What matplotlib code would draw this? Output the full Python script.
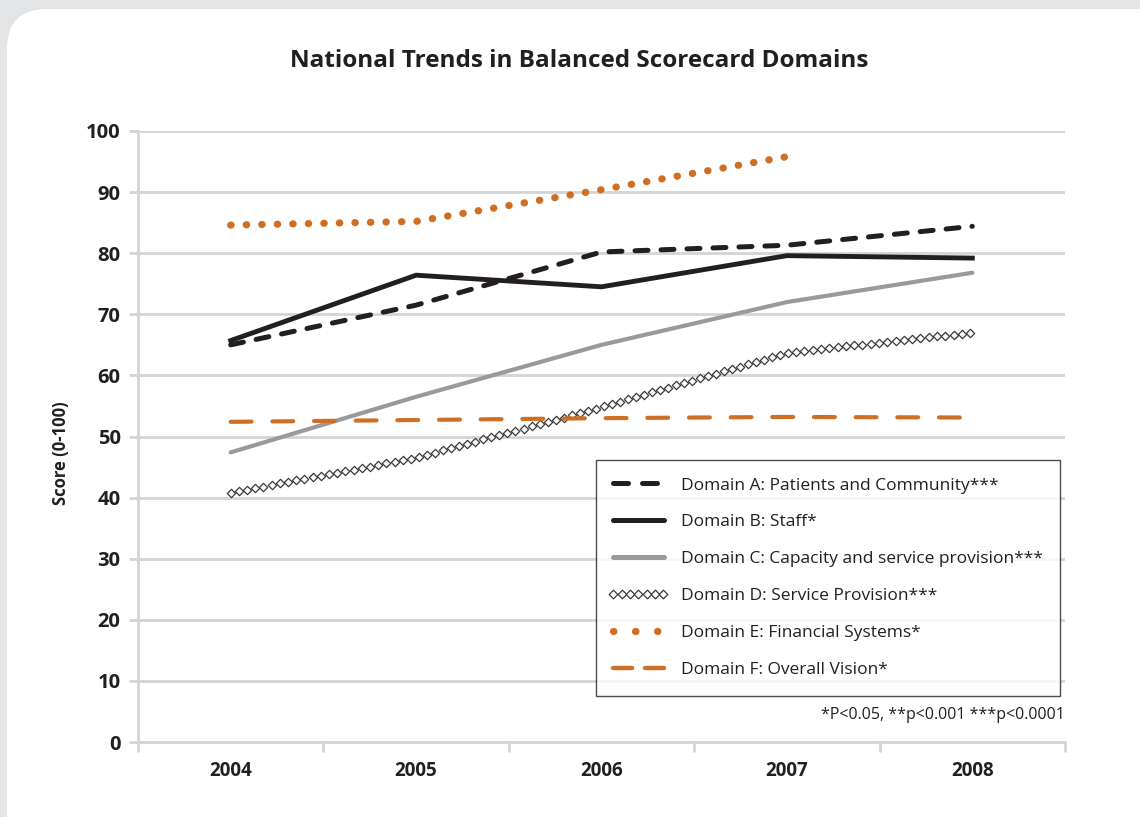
import numpy as np
import matplotlib
matplotlib.use("Agg")
import matplotlib.pyplot as plt
from matplotlib.patches import FancyBboxPatch
from matplotlib.patheffects import AbstractPathEffect
from matplotlib.path import Path
from matplotlib.transforms import Affine2D, IdentityTransform
from matplotlib.lines import Line2D

plt.rcParams['font.family'] = ['Open Sans', 'DejaVu Sans']

years = ['2004', '2005', '2006', '2007', '2008']
domain_a = [65.0, 71.5, 80.2, 81.3, 84.4]
domain_b = [65.7, 76.4, 74.5, 79.6, 79.2]
domain_c = [47.4, 56.5, 65.0, 72.0, 76.8]
domain_d = [40.8, 46.5, 54.8, 63.7, 67.0]
domain_e = [84.6, 85.2, 90.4, 95.8]
domain_f = [52.4, 52.7, 53.0, 53.2, 53.1]
labels = ['Domain A: Patients and Community***',
          'Domain B: Staff*',
          'Domain C: Capacity and service provision***',
          'Domain D: Service Provision***',
          'Domain E: Financial Systems*',
          'Domain F: Overall Vision*']

ORANGE = '#cf6f24'
DARK = '#231f20'
GREY = '#9a9a9c'


class DiamondChain(AbstractPathEffect):
    # draws small open diamonds at equal steps along the line
    def __init__(self, spacing=6.0, size=6.0):
        super().__init__()
        self.spacing = spacing
        self.size = size

    def draw_path(self, renderer, gc, tpath, affine, rgbFace=None):
        verts = affine.transform(tpath.vertices)
        seg = np.diff(verts, axis=0)
        cum = np.concatenate([[0], np.cumsum(np.hypot(seg[:, 0], seg[:, 1]))])
        step = renderer.points_to_pixels(self.spacing)
        d = np.arange(0, cum[-1] + 1e-6, step)
        pts = np.column_stack([np.interp(d, cum, verts[:, 0]), np.interp(d, cum, verts[:, 1])])
        size = renderer.points_to_pixels(self.size) / 2
        g = renderer.new_gc()
        g.copy_properties(gc)
        g.set_linewidth(0.9)
        g.set_dashes(0, None)
        renderer.draw_markers(g, Path.unit_regular_polygon(4), Affine2D().scale(size),
                              Path(pts), IdentityTransform(), (1, 1, 1, 1))
        g.restore()


fig = plt.figure(figsize=(11.4, 8.17), dpi=100)
fig.patch.set_facecolor('#e3e4e6')
card = FancyBboxPatch((7 / 1140, -0.1), 1.2, 1 - 9 / 817 + 0.1,
                      boxstyle='round,pad=0,rounding_size=0.035',
                      transform=fig.transFigure, facecolor='white', edgecolor='none',
                      mutation_aspect=1140 / 817, zorder=-5)
fig.patches.append(card)

ax = fig.add_axes([138 / 1140, 1 - 742 / 817, (1065 - 138) / 1140, (742 - 131) / 817])
ax.set_facecolor('none')
x = np.arange(len(years))

ax.plot(x, domain_a, color=DARK, lw=3.6, dashes=(2.6, 2.6), dash_capstyle='round',
        label=labels[0], zorder=4)
ax.plot(x, domain_b, color=DARK, lw=3.5, label=labels[1], zorder=4, solid_joinstyle='miter')
ax.plot(x, domain_c, color=GREY, lw=3.0, label=labels[2], zorder=3, solid_capstyle='round')
ax.plot(x, domain_d, color='#3a3a3a', lw=0.1, label=labels[3], zorder=3,
        path_effects=[DiamondChain()])
ax.plot(x[:len(domain_e)], domain_e, color=ORANGE, lw=5.2, dashes=(0.05, 2.1),
        dash_capstyle='round', label=labels[4], zorder=3)
ax.plot(x, domain_f, color=ORANGE, lw=3.0, dashes=(5.0, 5.0), dash_capstyle='round',
        label=labels[5], zorder=3)

ax.set_xlim(-0.5, 4.5)
ax.set_ylim(0, 100)
ax.set_yticks(np.arange(0, 101, 10))
ax.set_xticks(x)
ax.set_xticklabels(years)
ax.set_xticks(np.arange(-0.5, 4.6, 1), minor=True)
ax.tick_params(axis='x', which='major', length=0, pad=14, labelsize=13.5)
ax.tick_params(axis='x', which='minor', length=7, width=2, color='#d4d4d4')
ax.tick_params(axis='y', length=6.5, width=2, color='#d4d4d4', labelsize=14.5, pad=6)
for t in ax.get_xticklabels() + ax.get_yticklabels():
    t.set_fontweight('bold')
    t.set_color(DARK)
ax.grid(axis='y', color='#d4d4d4', lw=2)
ax.set_axisbelow(True)
for s in ['top', 'right']:
    ax.spines[s].set_visible(False)
for s in ['left', 'bottom']:
    ax.spines[s].set_color('#d4d4d4')
    ax.spines[s].set_linewidth(2)
ax.set_ylabel('Score (0-100)', fontsize=12, fontweight='bold', color=DARK, va='center')
ax.yaxis.set_label_coords(-0.083, 0.473)

handles = [Line2D([], [], color=DARK, lw=3.6, dashes=(3.0, 2.8), dash_capstyle='round'),
           Line2D([], [], color=DARK, lw=3.6, solid_capstyle='round'),
           Line2D([], [], color=GREY, lw=3.6, solid_capstyle='round'),
           Line2D([], [], color='#3a3a3a', lw=0.1, path_effects=[DiamondChain(6.0, 6.2)]),
           Line2D([], [], color=ORANGE, lw=5.2, dashes=(0.05, 3.0), dash_capstyle='round'),
           Line2D([], [], color=ORANGE, lw=3.2, dashes=(4.3, 2.9), dash_capstyle='round')]
leg = ax.legend(handles, labels, loc='upper left',
                bbox_to_anchor=(596 / 1140, 1 - 460 / 817), bbox_transform=fig.transFigure,
                fontsize=12.5, frameon=True, fancybox=False, handlelength=2.9,
                handletextpad=1.0, labelspacing=1.2, borderpad=1.0, borderaxespad=0)
leg.get_frame().set_edgecolor(DARK)
leg.get_frame().set_linewidth(1.0)
for t in leg.get_texts():
    t.set_color(DARK)

fig.text(1065 / 1140, 1 - 715 / 817, '*P<0.05, **p<0.001 ***p<0.0001', ha='right', va='center',
         fontsize=11.5, color=DARK)
fig.text(579 / 1140, 1 - 61 / 817, 'National Trends in Balanced Scorecard Domains', ha='center',
         va='center', fontsize=17.5, fontweight='bold', color=DARK)

fig.savefig('out.png', dpi=100, facecolor=fig.get_facecolor())
